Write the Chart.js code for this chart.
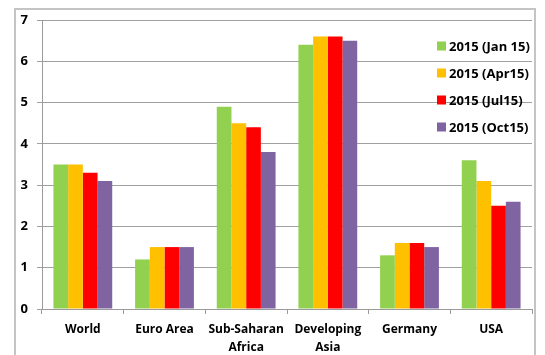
<!DOCTYPE html>
<html>
<head>
<meta charset="utf-8">
<script src="https://cdn.jsdelivr.net/npm/chart.js@4"></script>
<style>
  html, body { margin: 0; padding: 0; background: #fff; }
  #wrap { position: relative; width: 545px; height: 355px; }
</style>
</head>
<body>
<div id="wrap"><canvas id="growth"></canvas></div>
<script>
const REGIONS = ['World', 'Euro Area', ['Sub-Saharan', 'Africa'], ['Developing', 'Asia'], 'Germany', 'USA'];
const SERIES_NAMES = ['2015 (Jan 15)', '2015 (Apr15)', '2015 (Jul15)', '2015 (Oct15)'];
const JAN15 = [3.5, 1.2, 4.9, 6.4, 1.3, 3.6];
const APR15 = [3.5, 1.5, 4.5, 6.6, 1.6, 3.1];
const JUL15 = [3.3, 1.5, 4.4, 6.6, 1.6, 2.5];
const OCT15 = [3.1, 1.5, 3.8, 6.5, 1.5, 2.6];
const Y_TICKS = [0, 1, 2, 3, 4, 5, 6, 7];

const COLORS = ['#92D050', '#FFC000', '#FF0000', '#8064A2'];
const FONT = '"Open Sans", Lato, sans-serif';

// outer frame around the chart (bottom edge runs off the page)
const framePlugin = {
  id: 'frame',
  beforeDraw(chart) {
    const ctx = chart.ctx;
    ctx.save();
    ctx.strokeStyle = '#c4c4c4';
    ctx.lineWidth = 2;
    ctx.strokeRect(15, 9, 520, 420);
    ctx.restore();
  }
};

// legend drawn inside the plot, top right
const insideLegend = {
  id: 'insideLegend',
  afterDraw(chart) {
    const ctx = chart.ctx;
    ctx.save();
    ctx.font = 'bold 13px ' + FONT;
    ctx.textBaseline = 'middle';
    chart.data.datasets.forEach((ds, i) => {
      const y = 46 + i * 27;
      ctx.fillStyle = ds.backgroundColor;
      ctx.fillRect(437, y - 4.5, 9, 9);
      ctx.fillStyle = '#000';
      ctx.fillText(ds.label, 449, y + 1);
    });
    ctx.restore();
  }
};

const seriesData = [JAN15, APR15, JUL15, OCT15];

new Chart(document.getElementById('growth'), {
  type: 'bar',
  data: {
    labels: REGIONS,
    datasets: seriesData.map((d, i) => ({
      label: SERIES_NAMES[i],
      data: d,
      backgroundColor: COLORS[i],
      borderWidth: 0,
      barPercentage: 1,
      categoryPercentage: 0.72
    }))
  },
  options: {
    responsive: true,
    maintainAspectRatio: false,
    animation: false,
    layout: { padding: { left: 15, right: 13, top: 20, bottom: 0 } },
    plugins: { legend: { display: false }, tooltip: { enabled: false } },
    scales: {
      x: {
        grid: { drawOnChartArea: false, drawTicks: true, tickLength: 5, color: '#9a9a9a' },
        border: { color: '#9a9a9a', width: 1 },
        ticks: { color: '#000', font: { family: FONT, size: 12, weight: 'bold', lineHeight: 1.45 }, padding: 7, maxRotation: 0, autoSkip: false },
        afterFit: s => { s.height = 46; }
      },
      y: {
        min: 0, max: 7,
        afterBuildTicks: s => { s.ticks = Y_TICKS.map(v => ({ value: v })); },
        grid: { color: '#a0a0a0', lineWidth: 1, tickLength: 5 },
        border: { color: '#9a9a9a', width: 1 },
        ticks: { color: '#000', font: { family: FONT, size: 13, weight: 'bold' }, padding: 9 },
        afterFit: s => { s.width = 27; }
      }
    }
  },
  plugins: [framePlugin, insideLegend]
});
</script>
</body>
</html>
